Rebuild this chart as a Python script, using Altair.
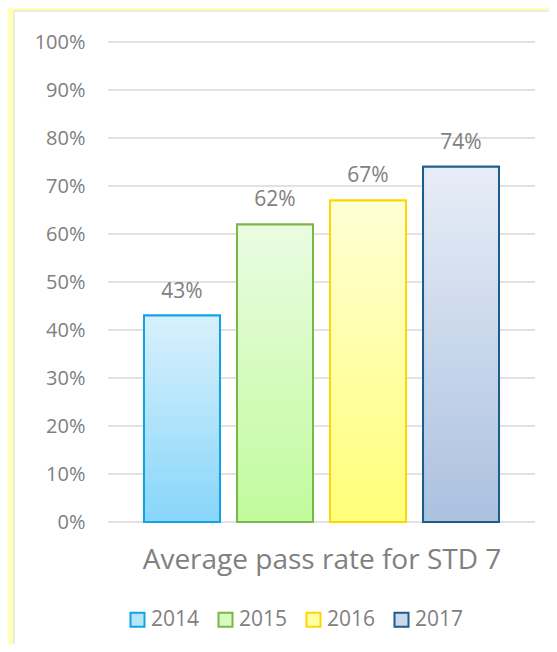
import altair as alt
import pandas as pd

# ---- data ----
years = ["2014", "2015", "2016", "2017"]
pass_rates = [0.43, 0.62, 0.67, 0.74]
y_ticks = [0.0, 0.1, 0.2, 0.3, 0.4, 0.5, 0.6, 0.7, 0.8, 0.9, 1.0]
title_text = "Average pass rate for STD 7"

# ---- styling ----
fill_top = ["#D8F0FC", "#EAFCE2", "#FFFFD6", "#E7EDF6"]
fill_bottom = ["#88D6FB", "#C0FB9C", "#FFFF78", "#ABC1E0"]
fill_mid = ["#B5E4FB", "#D8FBC2", "#FFFFA8", "#CBD7EA"]
border_colors = ["#11A3E3", "#7AB648", "#FFD700", "#1E5C8C"]
text_grey = "#808080"
grid_grey = "#D9D9D9"
FONT = "Open Sans"

df = pd.DataFrame({"year": years, "rate": pass_rates})
ticks_df = pd.DataFrame({"rate": y_ticks})

x_enc = alt.X(
    "year:N",
    scale=alt.Scale(domain=years, paddingInner=0.183, paddingOuter=0.387),
    axis=alt.Axis(
        labels=False, ticks=False, domain=False, grid=False,
        title=title_text, titleFontSize=28, titleFont=FONT,
        titleFontWeight="normal", titleColor=text_grey,
        titlePadding=24, zindex=1,
    ),
)
y_scale = alt.Scale(domain=[0, 1])
y_enc = alt.Y(
    "rate:Q",
    scale=y_scale,
    title=None,
    axis=alt.Axis(
        values=y_ticks, format=".0%", grid=False, ticks=False, domain=False,
        labelFontSize=20, labelFont=FONT, labelColor=text_grey,
        labelPadding=23, zindex=1, title=None,
    ),
)

# white chart panel on the yellow frame (decorative)
panel = alt.Chart(alt.Data(values=[{"p": 1}])).mark_rect(
    fill="white", stroke=grid_grey, strokeWidth=1
).encode(
    x=alt.value(-94), x2=alt.value(470), y=alt.value(-31), y2=alt.value(640)
)

grid = alt.Chart(ticks_df).mark_rule(color=grid_grey, strokeWidth=1.3).encode(
    y=y_enc
)

legend_cfg = dict(
    orient="none", legendX=19, legendY=567, direction="horizontal",
    title=None, symbolType="square", symbolSize=196, symbolStrokeWidth=2,
    labelFontSize=21, labelFont=FONT, labelColor=text_grey,
    labelOffset=3, columnPadding=14, padding=0,
)

base_bars = alt.Chart(df).mark_bar(strokeWidth=2).encode(
    x=x_enc,
    y=y_enc,
    fill=alt.Fill("year:N", scale=alt.Scale(domain=years, range=fill_mid),
                  legend=alt.Legend(**legend_cfg)),
    stroke=alt.Stroke("year:N", scale=alt.Scale(domain=years, range=border_colors),
                      legend=alt.Legend(**legend_cfg)),
)

grad_layers = []
for i, yr in enumerate(years):
    grad = {
        "gradient": "linear",
        "x1": 0, "y1": 0, "x2": 0, "y2": 1,
        "stops": [
            {"offset": 0, "color": fill_top[i]},
            {"offset": 1, "color": fill_bottom[i]},
        ],
    }
    grad_layers.append(
        alt.Chart(df)
        .transform_filter(alt.datum.year == yr)
        .mark_bar(fill=grad, stroke=border_colors[i], strokeWidth=2)
        .encode(x=x_enc, y=y_enc)
    )

labels = alt.Chart(df).mark_text(
    dy=-18, baseline="alphabetic", fontSize=21, font=FONT, color=text_grey
).encode(x=x_enc, y=y_enc, text=alt.Text("rate:Q", format=".0%"))

chart = alt.layer(panel, grid, base_bars, *grad_layers, labels).properties(
    width=427,
    height=480,
    autosize="none",
    padding={"left": 100, "top": 34, "right": 14, "bottom": 122},
    background="#FFFFB6",
).configure_view(stroke=None)

chart.save("out.html", embed_options={"renderer": "svg", "actions": False})
